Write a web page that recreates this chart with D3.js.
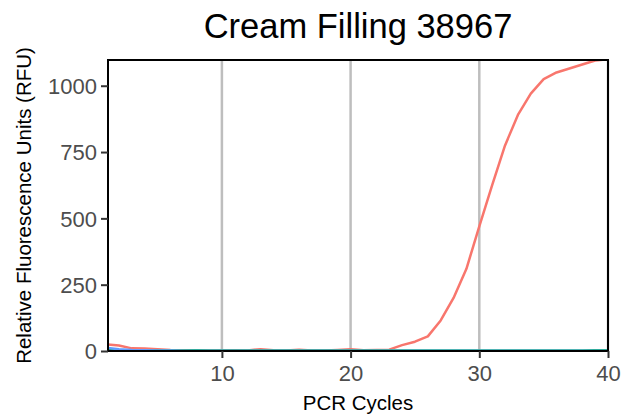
<!DOCTYPE html>
<html>
<head>
<meta charset="utf-8">
<script src="https://cdn.jsdelivr.net/npm/d3@7"></script>
<style>
  body { margin: 0; background: #fff; }
  svg { display: block; font-family: "Liberation Sans", Arial, Helvetica, sans-serif; }
</style>
</head>
<body>
<svg id="chart" width="632" height="418"></svg>
<script>
const cycles = d3.range(1, 41);
const redValues = [25, 21, 10, 9, 7, 4, 3, 3, 2, 2, 3, 2, 7, 3, 2, 5, 2, 2, 4, 7, 3, 4, 5, 22, 35, 55, 115, 200, 310, 470,
                   625, 775, 890, 970, 1025, 1050, 1065, 1080, 1095, 1100];
const greenValues = [4, 3, 2, 2, 2, 2, 2, 3, 2, 2, 2, 2, 2, 2, 2, 2, 2, 2, 2, 2, 2, 2, 2, 2, 2, 2, 2, 2, 2, 2,
                     2, 2, 2, 2, 2, 2, 2, 2, 3, 3];
const blueValues = [12, 7, 4, 3, 2, 2, 1, 1, 1, 1, 1, 1, 1, 1, 1, 1, 1, 1, 1, 1, 1, 1, 1, 1, 1, 1, 1, 1, 1, 1,
                    1, 1, 1, 1, 1, 1, 1, 1, 1, 1];
const seriesNames = ["A", "B", "C"];
const seriesColors = ["#F8766D", "#00BA38", "#619CFF"];
const xTicks = [10, 20, 30, 40];
const yTicks = [0, 250, 500, 750, 1000];
const titleText = "Cream Filling 38967";
const xTitle = "PCR Cycles";
const yTitle = "Relative Fluorescence Units (RFU)";

const series = [redValues, greenValues, blueValues].map((vals, i) => ({
  name: seriesNames[i], color: seriesColors[i],
  points: vals.map((v, j) => ({ x: cycles[j], y: v }))
}));

const svg = d3.select("#chart");
const L = 108, R = 608, T = 60, B = 351;
const x = d3.scaleLinear().domain([1.15, 40]).range([L, R]);
const y = d3.scaleLinear().domain([0, 1097]).range([B, T]);

// vertical gridlines
svg.append("g").selectAll("line").data(xTicks).join("line")
  .attr("x1", d => x(d)).attr("x2", d => x(d))
  .attr("y1", T).attr("y2", B)
  .attr("stroke", "#BEBEBE").attr("stroke-width", 2.5);

const line = d3.line().x(d => x(d.x)).y(d => y(d.y));
const plot = svg.append("g");
plot.append("defs").append("clipPath").attr("id", "clip")
  .append("rect").attr("x", L).attr("y", T - 1).attr("width", R - L).attr("height", B - T + 1);
plot.append("g").attr("clip-path", "url(#clip)")
  .selectAll("path").data(series).join("path")
  .attr("d", d => line(d.points))
  .attr("fill", "none").attr("stroke", d => d.color).attr("stroke-width", 2.5)
  .attr("stroke-linejoin", "round");

// panel border
svg.append("rect").attr("x", L).attr("y", T).attr("width", R - L).attr("height", B - T)
  .attr("fill", "none").attr("stroke", "#000").attr("stroke-width", 2);

// axes
const xAxis = svg.append("g").attr("transform", `translate(0,${B})`)
  .call(d3.axisBottom(x).tickValues(xTicks).tickFormat(d3.format("d")).tickSize(7).tickPadding(7));
const yAxis = svg.append("g").attr("transform", `translate(${L},0)`)
  .call(d3.axisLeft(y).tickValues(yTicks).tickFormat(d3.format("d")).tickSize(7).tickPadding(4));
[xAxis, yAxis].forEach(a => {
  a.select(".domain").remove();
  a.selectAll(".tick line").attr("stroke", "#333").attr("stroke-width", 2);
  a.selectAll(".tick text").attr("fill", "#4D4D4D").attr("font-size", 22)
    .attr("font-family", "'Liberation Sans', Arial, sans-serif");
});
yAxis.selectAll(".tick text").attr("dy", "0.35em");

// titles
svg.append("text").attr("x", (L + R) / 2).attr("y", 38).attr("text-anchor", "middle")
  .attr("font-size", 34.5).attr("fill", "#000").text(titleText);
svg.append("text").attr("x", 358).attr("y", 410).attr("text-anchor", "middle")
  .attr("font-size", 20.5).attr("fill", "#000").text(xTitle);
svg.append("text").attr("transform", `translate(31,${(T + B) / 2}) rotate(-90)`)
  .attr("text-anchor", "middle").attr("font-size", 20.5).attr("fill", "#000").text(yTitle);
</script>
</body>
</html>
